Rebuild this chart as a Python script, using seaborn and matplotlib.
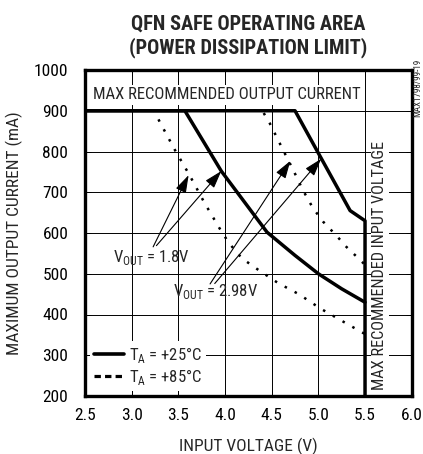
import matplotlib
matplotlib.use("Agg")
import matplotlib.pyplot as plt
from matplotlib import font_manager as fm
from matplotlib.lines import Line2D
import seaborn as sns
import pandas as pd

# ---- data ----
v_25_18 = [2.5, 3.57, 3.96, 4.45, 4.75, 5.0, 5.25, 5.5]
i_25_18 = [900, 900, 752, 602, 545, 500, 463, 430]
v_85_18 = [2.5, 3.24, 3.30, 3.46, 3.62, 3.78, 3.94, 4.04, 4.18, 4.36, 4.57, 4.79, 5.02, 5.27, 5.5]
i_85_18 = [900, 900, 873, 805, 742, 674, 612, 576, 538, 509, 477, 450, 415, 382, 352]
v_25_298 = [2.5, 4.75, 5.0, 5.34, 5.5, 5.5]
i_25_298 = [900, 900, 796, 655, 630, 200]
v_85_298 = [2.5, 4.40, 4.48, 4.63, 4.73, 4.83, 4.94, 5.05, 5.20, 5.30, 5.41, 5.5]
i_85_298 = [900, 900, 869, 800, 755, 707, 662, 628, 592, 566, 542, 522]

x_ticks = [2.5, 3.0, 3.5, 4.0, 4.5, 5.0, 5.5, 6.0]
x_labels = ["2.5", "3.0", "3.5", "4.0", "4.5", "5.0", "5.5", "6.0"]
y_ticks = [200, 300, 400, 500, 600, 700, 800, 900, 1000]

legend_labels = ["T$_\\mathregular{A}$ = +25°C", "T$_\\mathregular{A}$ = +85°C"]
vout_labels = ["V$_\\mathregular{OUT}$ = 1.8V", "V$_\\mathregular{OUT}$ = 2.98V"]
# arrow (tail, head) pairs for each label
arrows_18 = [((3.23, 566), (3.61, 742)), ((3.265, 569), (3.96, 752))]
arrows_298 = [((3.84, 475), (4.70, 777)), ((3.89, 476), (5.03, 782))]


def frame(v, i, ta, vout):
    return pd.DataFrame({"V": v, "I": i, "TA": ta, "VOUT": vout})


df = pd.concat([
    frame(v_25_18, i_25_18, "+25°C", "1.8V"),
    frame(v_85_18, i_85_18, "+85°C", "1.8V"),
    frame(v_25_298, i_25_298, "+25°C", "2.98V"),
    frame(v_85_298, i_85_298, "+85°C", "2.98V"),
], ignore_index=True)

# ---- pick a condensed sans font if one is installed ----
fonts = fm.fontManager.ttflist
names = {f.name for f in fonts}
family, stretch, scale = "Liberation Sans", "normal", 0.88
for cand in ["Liberation Sans Narrow", "Arial Narrow", "Roboto Condensed",
             "Open Sans Condensed", "Noto Sans Condensed", "Nimbus Sans Narrow"]:
    if cand in names:
        family, stretch, scale = cand, "normal", 1.0
        break
else:
    for f in fonts:
        if f.name in ("DejaVu Sans", "Noto Sans", "Open Sans", "Roboto") and \
                str(f.stretch) in ("condensed", "semi-condensed", "extra-condensed"):
            family, stretch, scale = f.name, f.stretch, 0.95
            break
    else:
        if "Liberation Sans" not in names:
            family = "DejaVu Sans"
            scale = 0.8

sns.set_style("ticks")
plt.rcParams["font.family"] = [family, "DejaVu Sans"]
plt.rcParams["font.stretch"] = stretch
plt.rcParams["mathtext.fontset"] = "custom"
plt.rcParams["mathtext.rm"] = family


def fs(x):
    return x * scale


fig = plt.figure(figsize=(4.23, 4.54), dpi=100)
ax = fig.add_axes([85 / 423, 1 - 396 / 454, 326.7 / 423, 326 / 454])

sns.lineplot(data=df[df.TA == "+25°C"], x="V", y="I", units="VOUT", style="TA",
             dashes={"+25°C": ""}, estimator=None, sort=False, color="k",
             lw=2.5, legend=False, ax=ax, zorder=3)
sns.lineplot(data=df[df.TA == "+85°C"], x="V", y="I", units="VOUT", style="TA",
             dashes={"+85°C": (1, 3.5)}, estimator=None, sort=False, color="k",
             lw=1.8, legend=False, ax=ax, zorder=3)

ax.set_xlim(2.5, 6.0)
ax.set_ylim(200, 1000)
ax.set_xticks(x_ticks)
ax.set_xticklabels(x_labels)
ax.set_yticks(y_ticks)
ax.grid(True, color="k", lw=0.7)
ax.set_axisbelow(True)
ax.tick_params(direction="in", length=4, width=0.7, colors="k", labelsize=fs(12.5),
               top=True, right=True)
ax.tick_params(axis="x", pad=9)
ax.tick_params(axis="y", pad=12)
for s in ax.spines.values():
    s.set_linewidth(2.4)
    s.set_color("k")

ax.set_xlabel("INPUT VOLTAGE (V)", fontsize=fs(12.5))
ax.set_ylabel("MAXIMUM OUTPUT CURRENT (mA)", fontsize=fs(12.5))
ax.xaxis.set_label_coords(0.5, -0.127)
ax.yaxis.set_label_coords(-0.19, 0.5)

ax.set_title("QFN SAFE OPERATING AREA\n(POWER DISSIPATION LIMIT)", fontsize=fs(14.7),
             fontweight="heavy", pad=12, linespacing=1.25)

ax.text(4.02, 939, "MAX RECOMMENDED OUTPUT CURRENT", fontsize=fs(12), ha="center",
        va="center", bbox=dict(facecolor="white", edgecolor="none",
                               boxstyle="square,pad=0.15"), zorder=4)
ax.text(5.66, 520, "MAX RECOMMENDED INPUT VOLTAGE", fontsize=fs(11.7), ha="center",
        va="center", rotation=90, bbox=dict(facecolor="white", edgecolor="none",
                                            boxstyle="square,pad=0.1"), zorder=4)

ax.text(2.80, 540, vout_labels[0], fontsize=fs(12), ha="left", va="center", zorder=5)
ax.text(3.44, 456, vout_labels[1], fontsize=fs(12), ha="left", va="center", zorder=5)
for tail, head in arrows_18 + arrows_298:
    ax.annotate("", xy=head, xytext=tail,
                arrowprops=dict(arrowstyle="-|>,head_length=0.6,head_width=0.19",
                                mutation_scale=18, lw=0.8, color="k",
                                shrinkA=0, shrinkB=0), zorder=5)

handles = [Line2D([], [], color="k", lw=2.6),
           Line2D([], [], color="k", lw=2.3, ls=(0, (2, 1.3)))]
leg = ax.legend(handles, legend_labels, loc="lower left", fontsize=fs(12),
                frameon=True, fancybox=False, framealpha=1, edgecolor="none",
                facecolor="white", handlelength=1.8 / scale, handletextpad=0.3,
                labelspacing=0.1, borderpad=0.25, borderaxespad=0.3)
leg.set_zorder(4)

fig.text(418 / 423, 1 - 88 / 454, "MAX1798/99-19", fontsize=fs(6.5), rotation=90,
         ha="center", va="center")

fig.savefig("out.png", dpi=100)
